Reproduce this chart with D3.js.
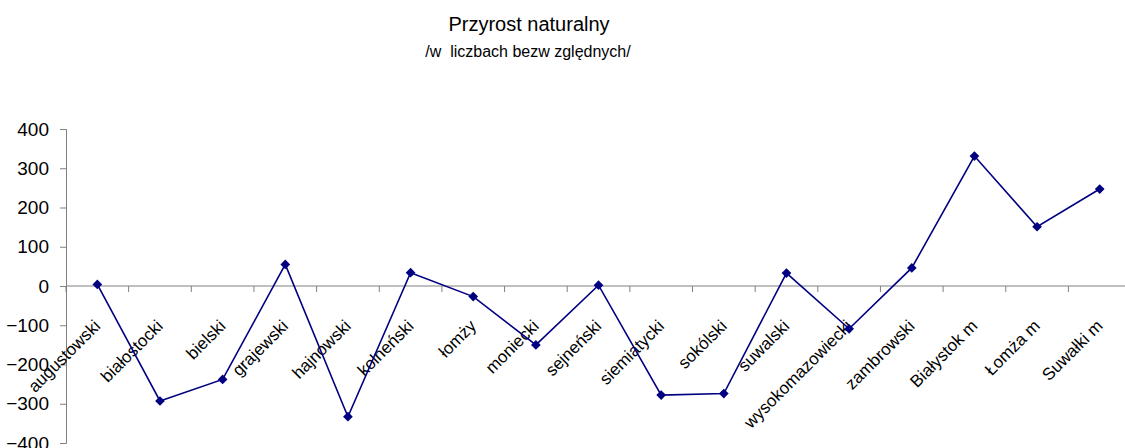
<!DOCTYPE html>
<html>
<head>
<meta charset="utf-8">
<script src="https://cdn.jsdelivr.net/npm/d3@7"></script>
<style>
  body { margin: 0; background: #fff; }
  text { font-family: "Liberation Sans", Arial, sans-serif; }
</style>
</head>
<body>
<div id="chart"></div>
<script>
// Data
const categories = ["augustowski", "białostocki", "bielski", "grajewski", "hajnowski",
  "kolneński", "łomży", "moniecki", "sejneński", "siemiatycki", "sokólski", "suwalski",
  "wysokomazowiecki", "zambrowski", "Białystok m", "Łomża m", "Suwałki m"];
const values = [4, -293, -238, 55, -333, 34, -27, -150, 2, -278, -274, 33, -109, 46, 331, 151, 247];
const yTicks = [-400, -300, -200, -100, 0, 100, 200, 300, 400];

const W = 1125, H = 448;
const svg = d3.select("#chart")
  .append("svg")
  .attr("width", W)
  .attr("height", H);

// Title
svg.append("text")
  .attr("x", 529).attr("y", 31)
  .attr("text-anchor", "middle")
  .style("font-size", "20px")
  .text("Przyrost naturalny");
svg.append("text")
  .attr("x", 528).attr("y", 57)
  .attr("text-anchor", "middle")
  .style("font-size", "16px")
  .style("white-space", "pre")
  .text("/w  liczbach bezw zględnych/");

// Scales
const x = d3.scaleBand().domain(categories).range([66, 66 + 17 * 62.65]);
const y = d3.scaleLinear().domain([-400, 400]).range([443, 129]);

// Y axis
const yAxis = svg.append("g")
  .attr("transform", "translate(66,0)")
  .call(d3.axisLeft(y).tickValues(yTicks).tickSize(6).tickPadding(11));
yAxis.select(".domain").attr("stroke", "#808080");
yAxis.selectAll(".tick line").attr("stroke", "#808080");
yAxis.selectAll(".tick text")
  .attr("fill", "#000")
  .style("font-size", "19px")
  .style("font-family", "'Liberation Sans', Arial, sans-serif");

// X axis at zero
const xAxis = svg.append("g")
  .attr("transform", `translate(0,${y(0)})`);
xAxis.append("line")
  .attr("x1", x.range()[0]).attr("x2", x.range()[1])
  .attr("stroke", "#808080");
xAxis.selectAll(".xt")
  .data(categories.map(c => x(c)).concat([x.range()[1]]))
  .enter().append("line")
  .attr("x1", d => d).attr("x2", d => d)
  .attr("y1", 0).attr("y2", 6)
  .attr("stroke", "#808080");
xAxis.selectAll(".xl")
  .data(categories)
  .enter().append("text")
  .attr("text-anchor", "end")
  .attr("transform", d => `translate(${x(d) + x.bandwidth() / 2 + 4},${41}) rotate(-45)`)
  .style("font-size", "17px")
  .text(d => d);

// Line
const line = d3.line()
  .x((d, i) => x(categories[i]) + x.bandwidth() / 2)
  .y(d => y(d));
svg.append("path")
  .datum(values)
  .attr("fill", "none")
  .attr("stroke", "#000080")
  .attr("stroke-width", 1.6)
  .attr("d", line);

// Markers
svg.selectAll(".pt")
  .data(values)
  .enter().append("path")
  .attr("d", d3.symbol().type(d3.symbolDiamond2).size(60))
  .attr("transform", (d, i) => `translate(${x(categories[i]) + x.bandwidth() / 2},${y(d)})`)
  .attr("fill", "#000080");
</script>
</body>
</html>
